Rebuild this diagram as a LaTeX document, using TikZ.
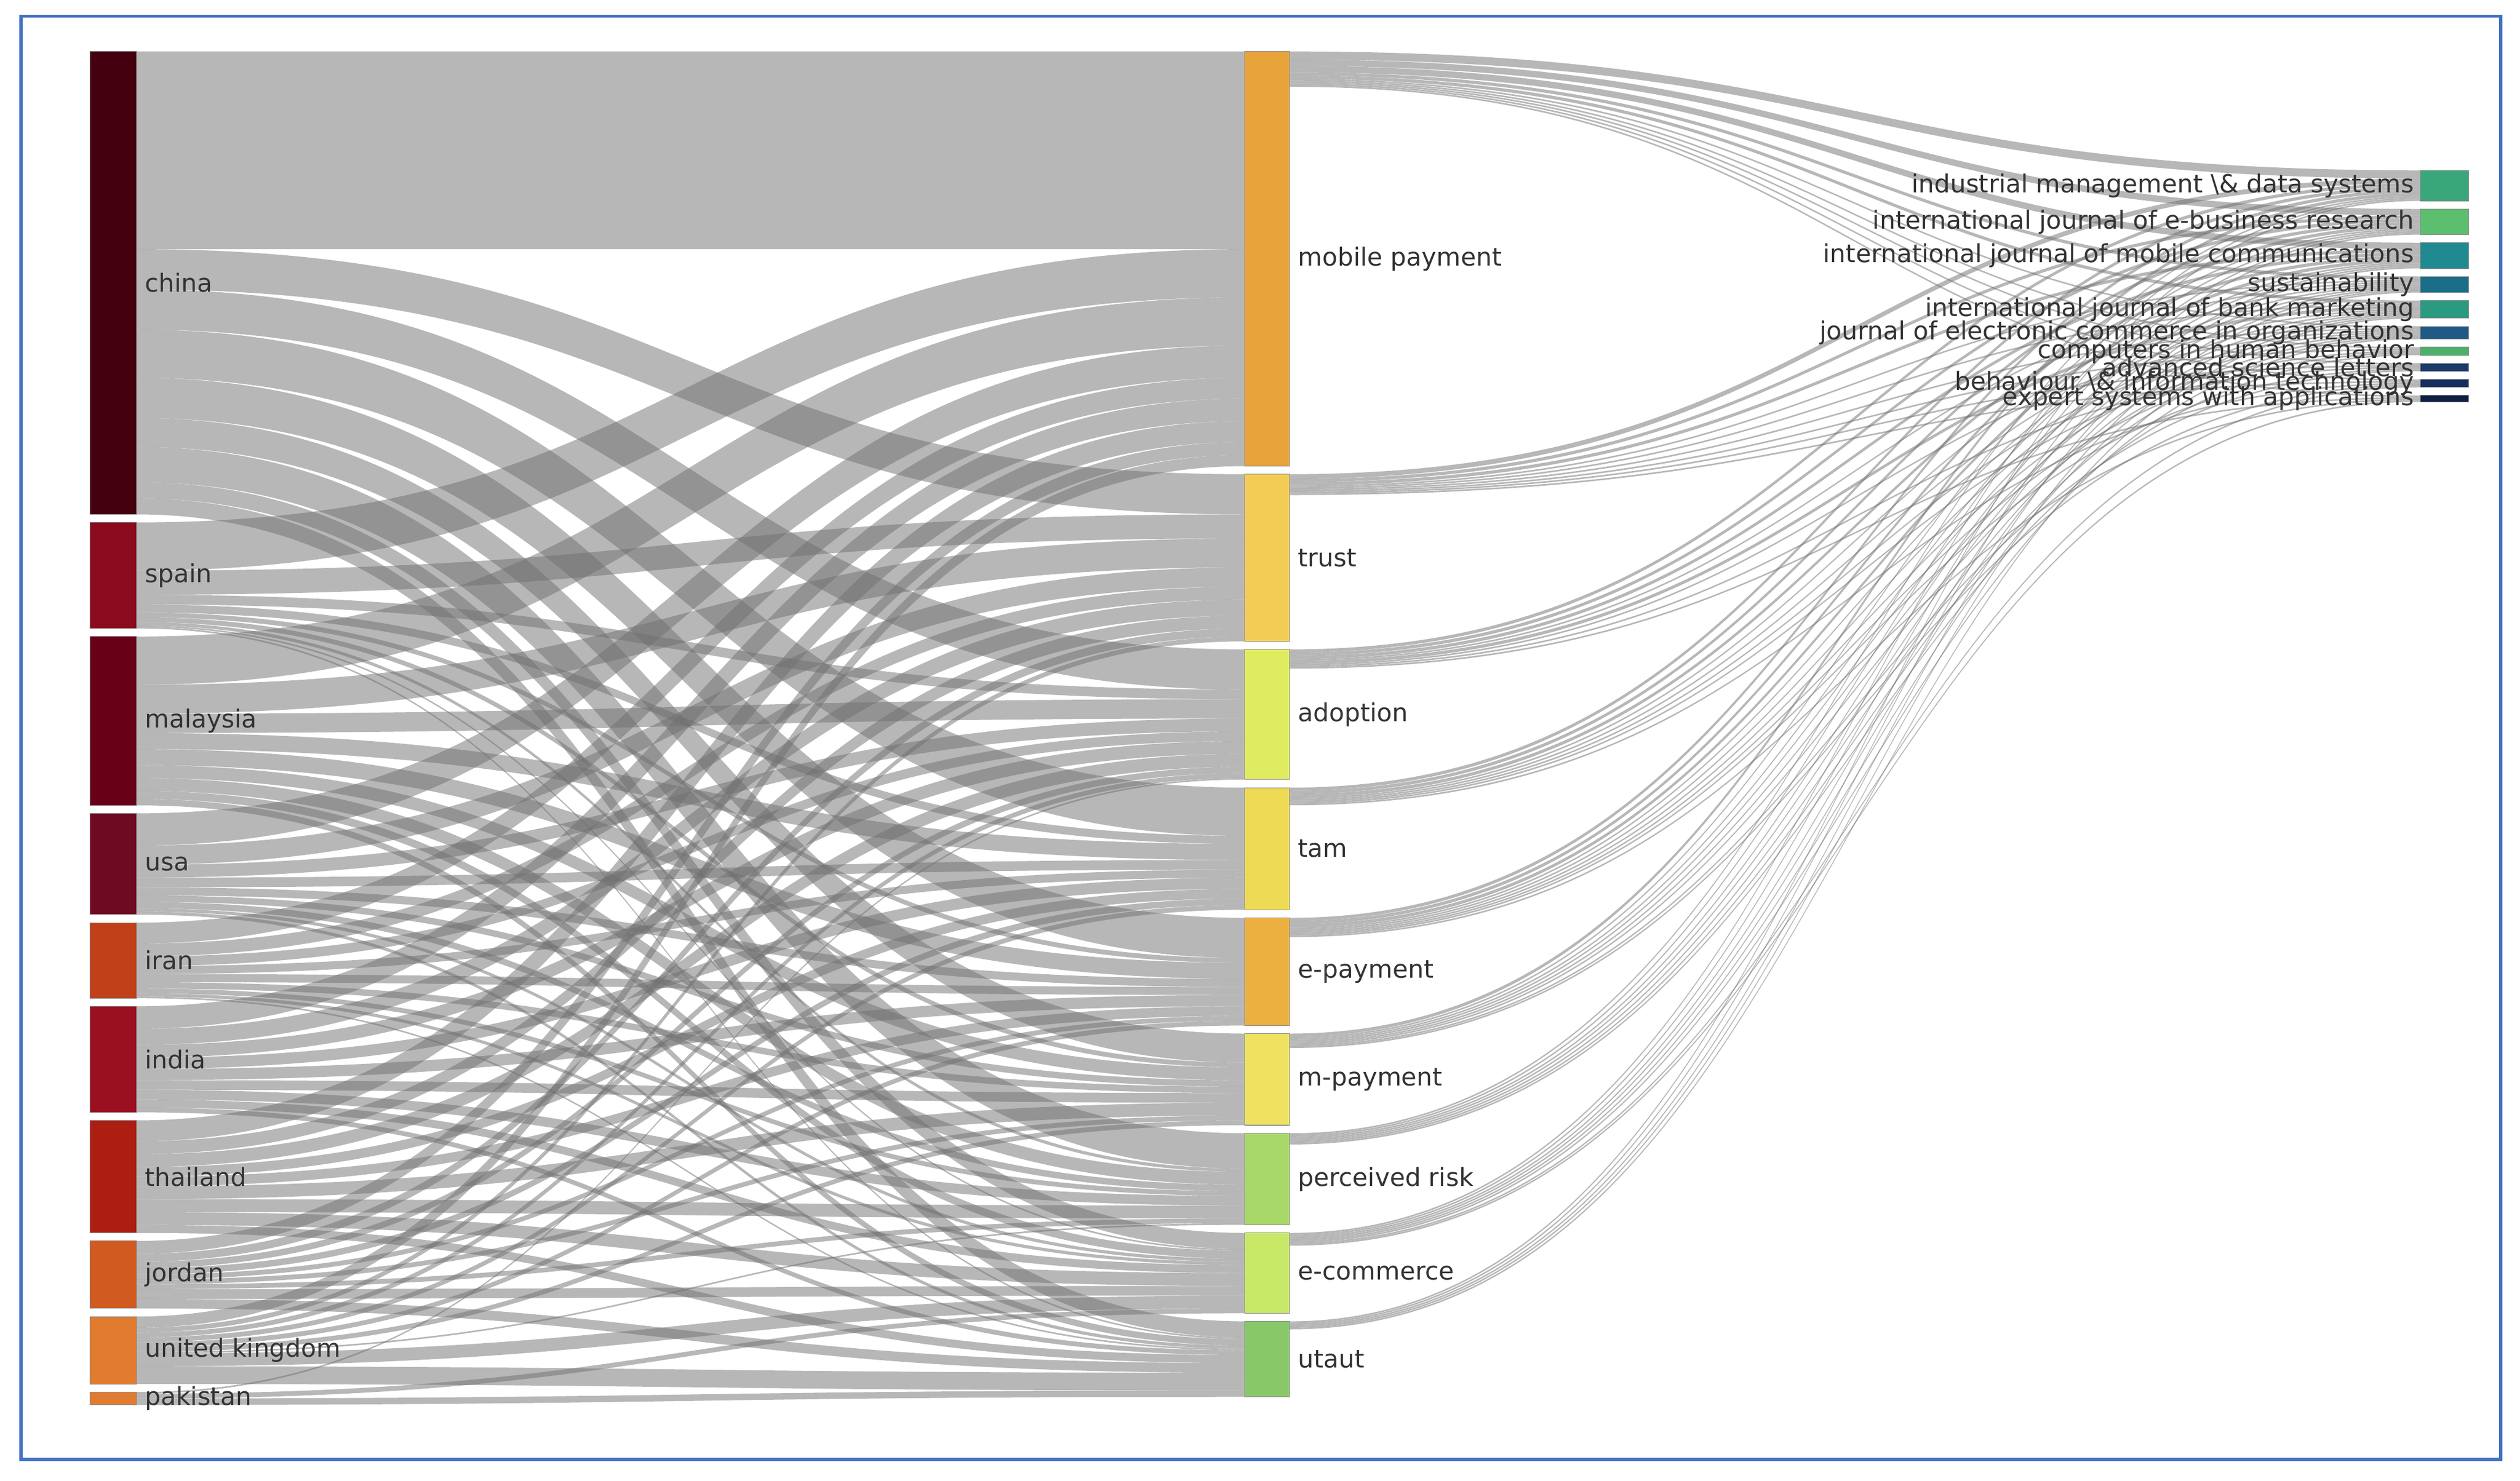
\documentclass[tikz,border=0pt]{standalone}
\usepackage{fontspec}
\setmainfont{DejaVu Sans}
\begin{document}
\begin{tikzpicture}[x=0.02833cm,y=-0.02833cm,
  link/.style={fill=black!56,fill opacity=0.5},
  lab/.style={font=\fontsize{12.5}{14}\selectfont,text=black!80,inner sep=0pt}]
\useasboundingbox (0,0) rectangle (1567,921);
\fill[white] (0,0) rectangle (1567,921);
\draw[color={rgb,255:red,68;green,114;blue,196},line width=1.6pt] (13,10) rectangle (1555,908);
\makeatletter
\newcommand\setcur[2]{\expandafter\xdef\csname cur#1\endcsname{#2}}
\newcommand\flw[5]{%
 \pgfmathsetmacro\ya{\csname cur#1\endcsname}%
 \pgfmathsetmacro\yb{\ya+#3}%
 \pgfmathsetmacro\yc{\csname cur#2\endcsname}%
 \pgfmathsetmacro\yd{\yc+#3}%
 \expandafter\xdef\csname cur#1\endcsname{\yb}%
 \expandafter\xdef\csname cur#2\endcsname{\yd}%
 \pgfmathsetmacro\xm{(#4+#5)/2}%
 \fill[link] (#4,\ya) .. controls (\xm,\ya) and (\xm,\yc) .. (#5,\yc) -- (#5,\yd) .. controls (\xm,\yd) and (\xm,\yb) .. (#4,\yb) -- cycle;}
\newcommand\rowL[2]{\foreach \w [count=\i] in {#2}{%
  \edef\tg{\ifcase\i\or Lmp\or Ltr\or Lad\or Ltam\or Lep\or Lmy\or Lpr\or Lec\or Lut\fi}%
  \ifdim\w pt>0pt \flw{#1}{\tg}{\w}{85}{774}\fi}}
\newcommand\rowR[2]{\foreach \w [count=\i] in {#2}{%
  \edef\tg{\ifcase\i\or im\or ebr\or mc\or sus\or bnk\or jec\or chb\or asl\or beh\or es\fi}%
  \ifdim\w pt>0pt \flw{#1}{\tg}{\w}{802}{1505}\fi}}
\makeatother
% cursors
\setcur{chn}{32}\setcur{spa}{325}\setcur{mal}{396}\setcur{usa}{506}\setcur{ira}{574}
\setcur{ind}{626}\setcur{tha}{697}\setcur{jor}{772}\setcur{uk}{819}\setcur{pak}{866}
\setcur{Lmp}{32}\setcur{Ltr}{295}\setcur{Lad}{404}\setcur{Ltam}{490}\setcur{Lep}{571}
\setcur{Lmy}{643}\setcur{Lpr}{705}\setcur{Lec}{767}\setcur{Lut}{822}
\setcur{Rmp}{32}\setcur{Rtr}{295}\setcur{Rad}{404}\setcur{Rtam}{490}\setcur{Rep}{571}
\setcur{Rmy}{643}\setcur{Rpr}{705}\setcur{Rec}{767}\setcur{Rut}{822}
\setcur{im}{106}\setcur{ebr}{130}\setcur{mc}{151}\setcur{sus}{172}\setcur{bnk}{187}
\setcur{jec}{203}\setcur{chb}{216}\setcur{asl}{226}\setcur{beh}{236}\setcur{es}{246}
% left -> middle
\rowL{chn}{123,25,25,30,25,18,22,10,10}
\rowL{spa}{30,15,6,5,3,3,2,1,1}
\rowL{mal}{30,18,12,10,10,8,8,5,4}
\rowL{usa}{20,12,8,6,5,4,4,2,2}
\rowL{ira}{13,8,6,5,5,4,3,2,1}
\rowL{ind}{14,10,8,7,7,6,6,5,3}
\rowL{tha}{13,8,8,6,6,8,8,8,5}
\rowL{jor}{8,5,4,4,3,3,3,6,6}
\rowL{uk}{7,3,3,3,3,3,1,8,11}
\rowL{pak}{0,0,1,0,0,0,0,3,4}
% middle -> right
\rowR{Rmp}{5,4,4,2,2,1,1,1,1,1}
\rowR{Rtr}{3,2,2,1,1,1,1,1,1,0}
\rowR{Rad}{2,2,2,1,2,1,0,1,0,1}
\rowR{Rtam}{2,2,2,1,1,1,1,0,1,0}
\rowR{Rep}{2,2,2,1,1,1,1,1,0,1}
\rowR{Rmy}{2,1,1,1,1,1,0,1,1,0}
\rowR{Rpr}{1,1,1,1,1,1,1,0,0,0}
\rowR{Rec}{1,1,1,1,1,1,0,0,1,1}
\rowR{Rut}{1,1,1,1,1,0,0,0,0,0}
% bars
\newcommand\skbar[6]{% name, x1, y1, x2, y2, color
 \definecolor{c#1}{HTML}{#6}%
 \fill[c#1,draw=black!45,line width=0.3pt] (#2,#3) rectangle (#4,#5);
 \coordinate (#1) at ({(#2+#4)/2},{(#3+#5)/2});}
\skbar{chn}{56}{32}{85}{320}{45000F}
\skbar{spa}{56}{325}{85}{391}{8A0A1E}
\skbar{mal}{56}{396}{85}{501}{680018}
\skbar{usa}{56}{506}{85}{569}{6E0A22}
\skbar{ira}{56}{574}{85}{621}{C0401A}
\skbar{ind}{56}{626}{85}{692}{9A1020}
\skbar{tha}{56}{697}{85}{767}{AC1E12}
\skbar{jor}{56}{772}{85}{814}{D05A20}
\skbar{uk}{56}{819}{85}{861}{E07B30}
\skbar{pak}{56}{866}{85}{874}{E07B30}
\skbar{mp}{774}{32}{802}{290}{E8A33A}
\skbar{tr}{774}{295}{802}{399}{F2CC55}
\skbar{ad}{774}{404}{802}{485}{E0EC60}
\skbar{tam}{774}{490}{802}{566}{EEDA55}
\skbar{ep}{774}{571}{802}{638}{ECB040}
\skbar{my}{774}{643}{802}{700}{EEE260}
\skbar{pr}{774}{705}{802}{762}{A8D868}
\skbar{ec}{774}{767}{802}{817}{C8E868}
\skbar{ut}{774}{822}{802}{869}{88C868}
\skbar{im}{1505}{106}{1535}{125}{3AA77A}
\skbar{ebr}{1505}{130}{1535}{146}{5CBF70}
\skbar{mc}{1505}{151}{1535}{167}{1F8A8F}
\skbar{sus}{1505}{172}{1535}{182}{1A6E8A}
\skbar{bnk}{1505}{187}{1535}{198}{2A9A80}
\skbar{jec}{1505}{203}{1535}{211}{1E5A85}
\skbar{chb}{1505}{216}{1535}{221}{4CAF6A}
\skbar{asl}{1505}{226}{1535}{231}{1A3A6A}
\skbar{beh}{1505}{236}{1535}{241}{15305E}
\skbar{es}{1505}{246}{1535}{250}{0E2040}
% labels
\foreach \n/\t in {chn/china,spa/spain,mal/malaysia,usa/usa,ira/iran,ind/india,tha/thailand,jor/jordan,uk/united kingdom,pak/pakistan}
  \node[lab,anchor=west] (l\n) at ([xshift=4] \n -| 85,0) {\t};
\foreach \n/\t in {mp/mobile payment,tr/trust,ad/adoption,tam/tam,ep/e-payment,my/m-payment,pr/perceived risk,ec/e-commerce,ut/utaut}
  \node[lab,anchor=west] (l\n) at ([xshift=4] \n -| 802,0) {\t};
\foreach \n/\t in {im/industrial management \textbackslash\& data systems,ebr/international journal of e-business research,mc/international journal of mobile communications,sus/sustainability,bnk/international journal of bank marketing,jec/journal of electronic commerce in organizations,chb/computers in human behavior,asl/advanced science letters,beh/behaviour \textbackslash\& information technology,es/expert systems with applications}
  \node[lab,anchor=east] (l\n) at ([xshift=-3] \n -| 1505,0) {\t};
\end{tikzpicture}
\end{document}
